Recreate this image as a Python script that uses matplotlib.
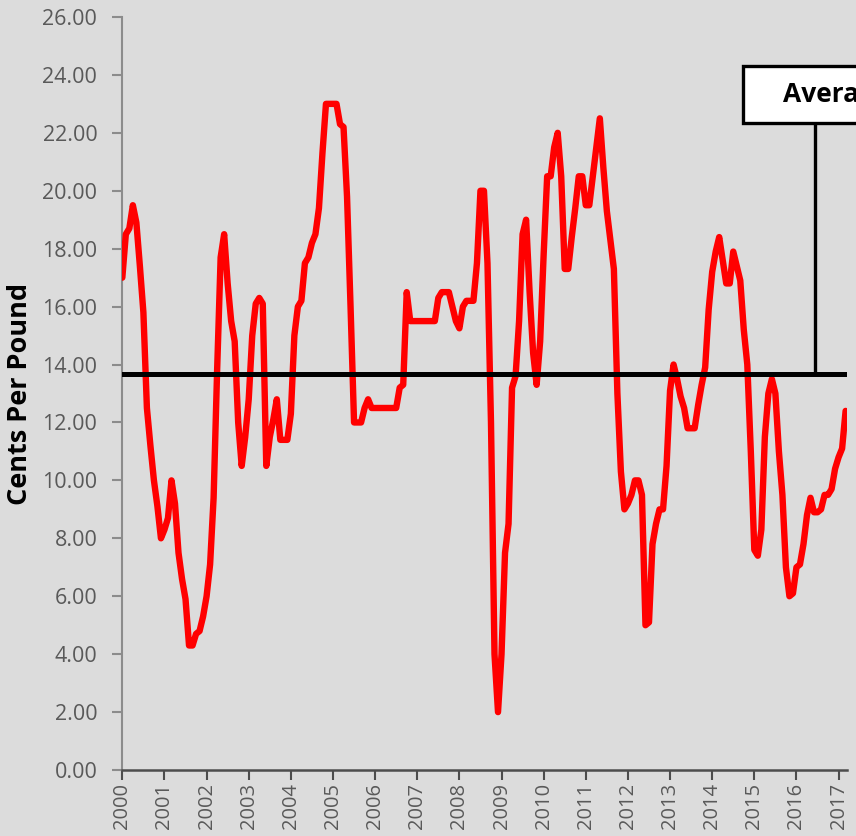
import numpy as np
import matplotlib.pyplot as plt
from matplotlib.patches import Rectangle

# monthly price, Jan 2000 .. Mar 2017 (cents per pound)
start_year = 2000
cents = [
    17.0, 18.5, 18.7, 19.5, 18.9, 17.4, 15.8, 12.5, 11.2, 10.0, 9.1, 8.0,
    8.3, 8.7, 10.0, 9.2, 7.5, 6.6, 5.9, 4.3, 4.3, 4.7, 4.8, 5.3,
    6.0, 7.1, 9.4, 13.8, 17.7, 18.5, 16.8, 15.5, 14.8, 12.0, 10.5, 11.5,
    12.8, 15.0, 16.1, 16.3, 16.1, 10.5, 11.5, 12.1, 12.8, 11.4, 11.4, 11.4,
    12.3, 15.0, 16.0, 16.2, 17.5, 17.7, 18.2, 18.5, 19.4, 21.3, 23.0, 23.0,
    23.0, 23.0, 22.3, 22.2, 19.8, 16.0, 12.0, 12.0, 12.0, 12.5, 12.8, 12.5,
    12.5, 12.5, 12.5, 12.5, 12.5, 12.5, 12.5, 13.2, 13.3, 16.5, 15.5, 15.5,
    15.5, 15.5, 15.5, 15.5, 15.5, 15.5, 16.3, 16.5, 16.5, 16.5, 16.0, 15.5,
    15.25, 16.0, 16.2, 16.2, 16.2, 17.5, 20.0, 20.0, 17.5, 12.0, 4.0, 2.0,
    4.0, 7.5, 8.5, 13.2, 13.6, 15.5, 18.5, 19.0, 16.5, 14.4, 13.3, 14.8,
    17.8, 20.5, 20.5, 21.5, 22.0, 20.5, 17.3, 17.3, 18.4, 19.4, 20.5, 20.5,
    19.5, 19.5, 20.5, 21.5, 22.5, 20.8, 19.3, 18.3, 17.3, 13.0, 10.3, 9.0,
    9.2, 9.5, 10.0, 10.0, 9.5, 5.0, 5.1, 7.8, 8.5, 9.0, 9.0, 10.5,
    13.1, 14.0, 13.5, 12.9, 12.5, 11.8, 11.8, 11.8, 12.6, 13.3, 13.9, 15.9,
    17.2, 17.9, 18.4, 17.6, 16.8, 16.8, 17.9, 17.4, 16.9, 15.2, 14.0, 11.0,
    7.6, 7.4, 8.3, 11.5, 13.0, 13.5, 13.0, 11.0, 9.5, 7.0, 6.0, 6.1,
    7.0, 7.1, 7.8, 8.8, 9.4, 8.9, 8.9, 9.0, 9.5, 9.5, 9.7, 10.4,
    10.8, 11.1, 12.4,
]
average = 13.68
years = list(range(2000, 2018))
y_ticks = [0, 2, 4, 6, 8, 10, 12, 14, 16, 18, 20, 22, 24, 26]
avg_label = "Average = 13.68"

plt.rcParams["font.family"] = ["Open Sans", "DejaVu Sans"]
bg = "#dcdcdc"

dates = start_year + np.arange(len(cents)) / 12.0

fig = plt.figure(figsize=(8.56, 8.36), dpi=100, facecolor=bg)
ax = fig.add_axes([0.1429, 0.0789, 0.8466, 0.9008])
ax.set_facecolor(bg)

ax.plot(dates, cents, color="#ff0000", lw=4.6, solid_joinstyle="round",
        solid_capstyle="round", zorder=3)
ax.axhline(average, color="black", lw=3.6, zorder=4)

ax.set_xlim(2000, 2017.2)
ax.set_ylim(0, 26)
ax.set_xticks(years)
ax.set_xticklabels([str(y) for y in years], rotation=90)
ax.set_yticks(y_ticks)
ax.set_yticklabels([f"{v:.2f}" for v in y_ticks])

for s in ["top", "right"]:
    ax.spines[s].set_visible(False)
ax.spines["left"].set_color("#8c8c8c")
ax.spines["left"].set_linewidth(1.5)
ax.spines["bottom"].set_color("#4d4d4d")
ax.spines["bottom"].set_linewidth(1.8)

ax.tick_params(axis="y", length=7, width=1.5, color="#8c8c8c",
               labelsize=15.5, labelcolor="#595959", pad=11)
ax.tick_params(axis="x", length=7, width=1.5, color="#4d4d4d",
               labelsize=14.5, labelcolor="#595959", pad=2)

ax.set_ylabel("Cents Per Pound", fontsize=19.5, fontweight="bold", color="black")
ax.yaxis.set_label_coords(-0.123, 0.5)

# callout box, runs off the right edge like the original
ax.add_patch(Rectangle((0.8565, 0.8592), 0.35, 0.0757, transform=ax.transAxes,
                       facecolor="white", edgecolor="black", lw=2.4,
                       clip_on=False, zorder=5))
ax.text(0.9117, 0.897, avg_label, transform=ax.transAxes, ha="left",
        va="center", fontsize=19, fontweight="bold", zorder=6, clip_on=False)
ax.plot([0.9558, 0.9558], [(average / 26), 0.8592], transform=ax.transAxes,
        color="black", lw=2.4, zorder=4, clip_on=False)

fig.savefig("out.png", dpi=100, facecolor=bg)
